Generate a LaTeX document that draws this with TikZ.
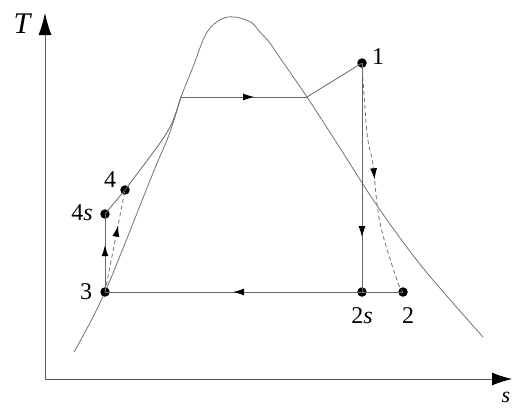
\documentclass[tikz,border=0pt]{standalone}
\usepackage{fontspec}
\setmainfont{Liberation Serif}
\newfontfamily\timesfont{Liberation Serif}
\usetikzlibrary{arrows.meta,decorations.markings}
\begin{document}
\begin{tikzpicture}[x=1pt,y=-1pt,
  curve/.style={draw=black!55, line width=0.8pt},
  proc/.style={draw=black!60, line width=0.8pt},
  dashproc/.style={draw=black!55, line width=0.8pt, dash pattern=on 4pt off 3pt},
  axisline/.style={draw=black!65, line width=0.8pt},
  midarrow/.style={postaction={decorate}, decoration={markings, mark=at position #1 with {\arrow[black]{Latex[length=11pt,width=7pt]}}}},
  dot/.style={circle, fill=black, inner sep=0pt, minimum size=9.5pt},
  lab/.style={font=\timesfont\fontsize{24}{24}\selectfont, inner sep=0pt},
]
\useasboundingbox (0,0) rectangle (516,408);
% axes
\coordinate (O) at (45,379);
\coordinate (Ttip) at (45,13);
\coordinate (stip) at (512,379);
\draw[axisline, -{Latex[length=22pt,width=13pt,black]}] (O) -- (Ttip);
\draw[axisline, -{Latex[length=20pt,width=13pt,black]}] (O) -- (stip);
\node[font=\timesfont\fontsize{30}{30}\selectfont\itshape, inner sep=0pt] (Tlab) at (22,24) {T};
\node[font=\timesfont\fontsize{22}{22}\selectfont\itshape, inner sep=0pt] (slab) at (506,397) {s};
% saturation dome
\draw[curve] plot[smooth, tension=0.55] coordinates {(74,352) (105,292) (153,173) (167,140) (175,117) (181,97) (193,67) (203,40) (210,28) (218,21) (228,17) (240,18) (252,23) (260,32) (270,43) (278,55) (307,97) (340,148) (378,207) (423,268) (483,337)};
% state points
\node[dot] (p1) at (362,63) {};
\node[dot] (p2s) at (362,292) {};
\node[dot] (p2) at (403,292) {};
\node[dot] (p3) at (105,292) {};
\node[dot] (p4s) at (105,214) {};
\node[dot] (p4) at (125,190) {};
\coordinate (e1) at (181,97);
\coordinate (e2) at (307,97);
% labels
\node[lab] (l1) at (378,57) {1};
\node[lab] (l2s) at (362,316) {2\textit{s}};
\node[lab] (l2) at (408,316) {2};
\node[lab] (l3) at (86,292) {3};
\node[lab] (l4s) at (82,213) {4\textit{s}};
\node[lab] (l4) at (110,180) {4};
% processes
\draw[proc, midarrow=0.6] (p3.center) -- (p4s.center);
\draw[dashproc, midarrow=0.65] (p3.center) -- (p4.center);
\draw[proc] (p4s.center) -- (p4.center);
\draw[proc] plot[smooth, tension=0.55] coordinates {(125,190) (140,170) (160,143) (172,123) (181,97)};
\draw[proc, midarrow=0.58] (e1) -- (e2);
\draw[proc] (e2) -- (p1.center);
\draw[proc, midarrow=0.76] (p1.center) -- (p2s.center);
\draw[dashproc, midarrow=0.5] plot[smooth, tension=0.6] coordinates {(362,63) (367,133) (373,165) (380,223) (397,280) (403,292)};
\draw[proc, midarrow=0.57] (p2.center) -- (p3.center);
\end{tikzpicture}
\end{document}
